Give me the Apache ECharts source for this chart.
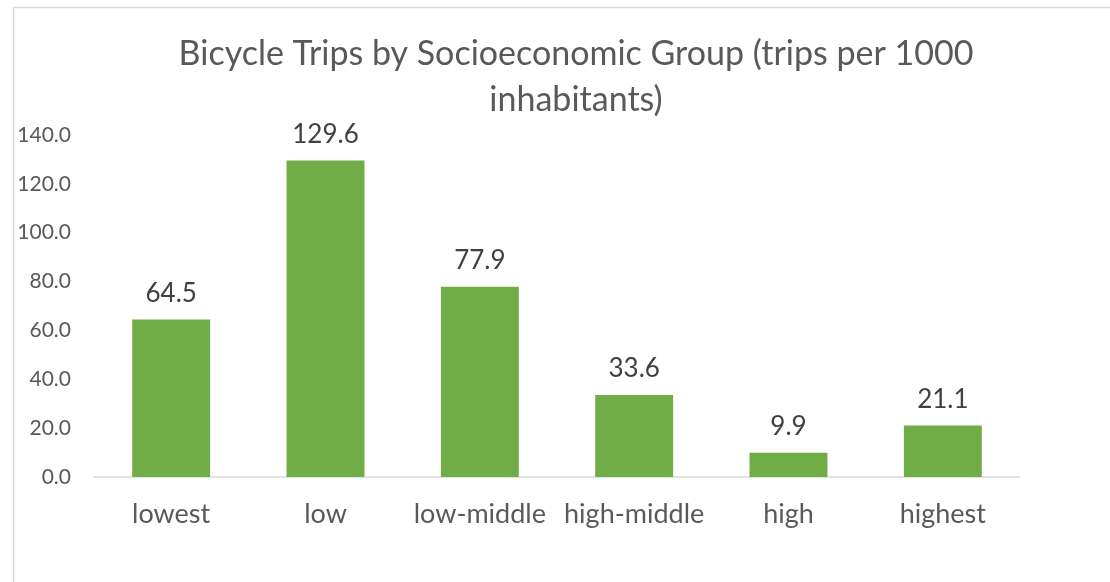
<!DOCTYPE html>
<html><head><meta charset="utf-8">
<script src="https://cdn.jsdelivr.net/npm/echarts@6/dist/echarts.min.js"></script>
<style>html,body{margin:0;padding:0;background:#fff;}#c{width:1110px;height:582px;}</style>
</head><body><div id="c"></div>
<script>
const categories = ["lowest", "low", "low-middle", "high-middle", "high", "highest"];
const tripsPer1000 = [64.5, 129.6, 77.9, 33.6, 9.9, 21.1];
const titleText = "Bicycle Trips by Socioeconomic Group (trips per 1000\ninhabitants)";

const chart = echarts.init(document.getElementById('c'));
const font = 'Lato, "Open Sans", sans-serif';
chart.setOption({
  animation: false,
  backgroundColor: '#fff',
  graphic: [{
    type: 'rect', shape: {x: 13.5, y: 7.5, width: 1200, height: 700},
    style: {fill: 'none', stroke: '#d9d9d9', lineWidth: 1.5}, silent: true
  }],
  title: {
    text: titleText, left: 571, top: 26, textAlign: 'center',
    textStyle: {fontFamily: font, fontSize: 34, fontWeight: 'normal', color: '#595959', lineHeight: 46}
  },
  grid: {left: 94, right: 90, top: 135, bottom: 105, containLabel: false},
  xAxis: {
    type: 'category', data: categories,
    axisLine: {lineStyle: {color: '#d9d9d9', width: 1.5}},
    axisTick: {show: false},
    axisLabel: {interval: 0, hideOverlap: false, fontFamily: font, fontSize: 27, color: '#595959', margin: 24}
  },
  yAxis: {
    type: 'value', min: 0, max: 140, interval: 20,
    splitLine: {show: false}, axisLine: {show: false}, axisTick: {show: false},
    axisLabel: {fontFamily: font, fontSize: 21, color: '#595959', margin: 23, padding: [4, 0, 0, 0],
      formatter: v => v.toFixed(1)}
  },
  series: [{
    type: 'bar', data: tripsPer1000, barWidth: '50.5%',
    itemStyle: {color: '#70ad47'},
    label: {show: true, position: 'top', distance: 13, fontFamily: font, fontSize: 26, color: '#404040',
      formatter: p => p.value.toFixed(1)}
  }]
});
</script></body></html>
